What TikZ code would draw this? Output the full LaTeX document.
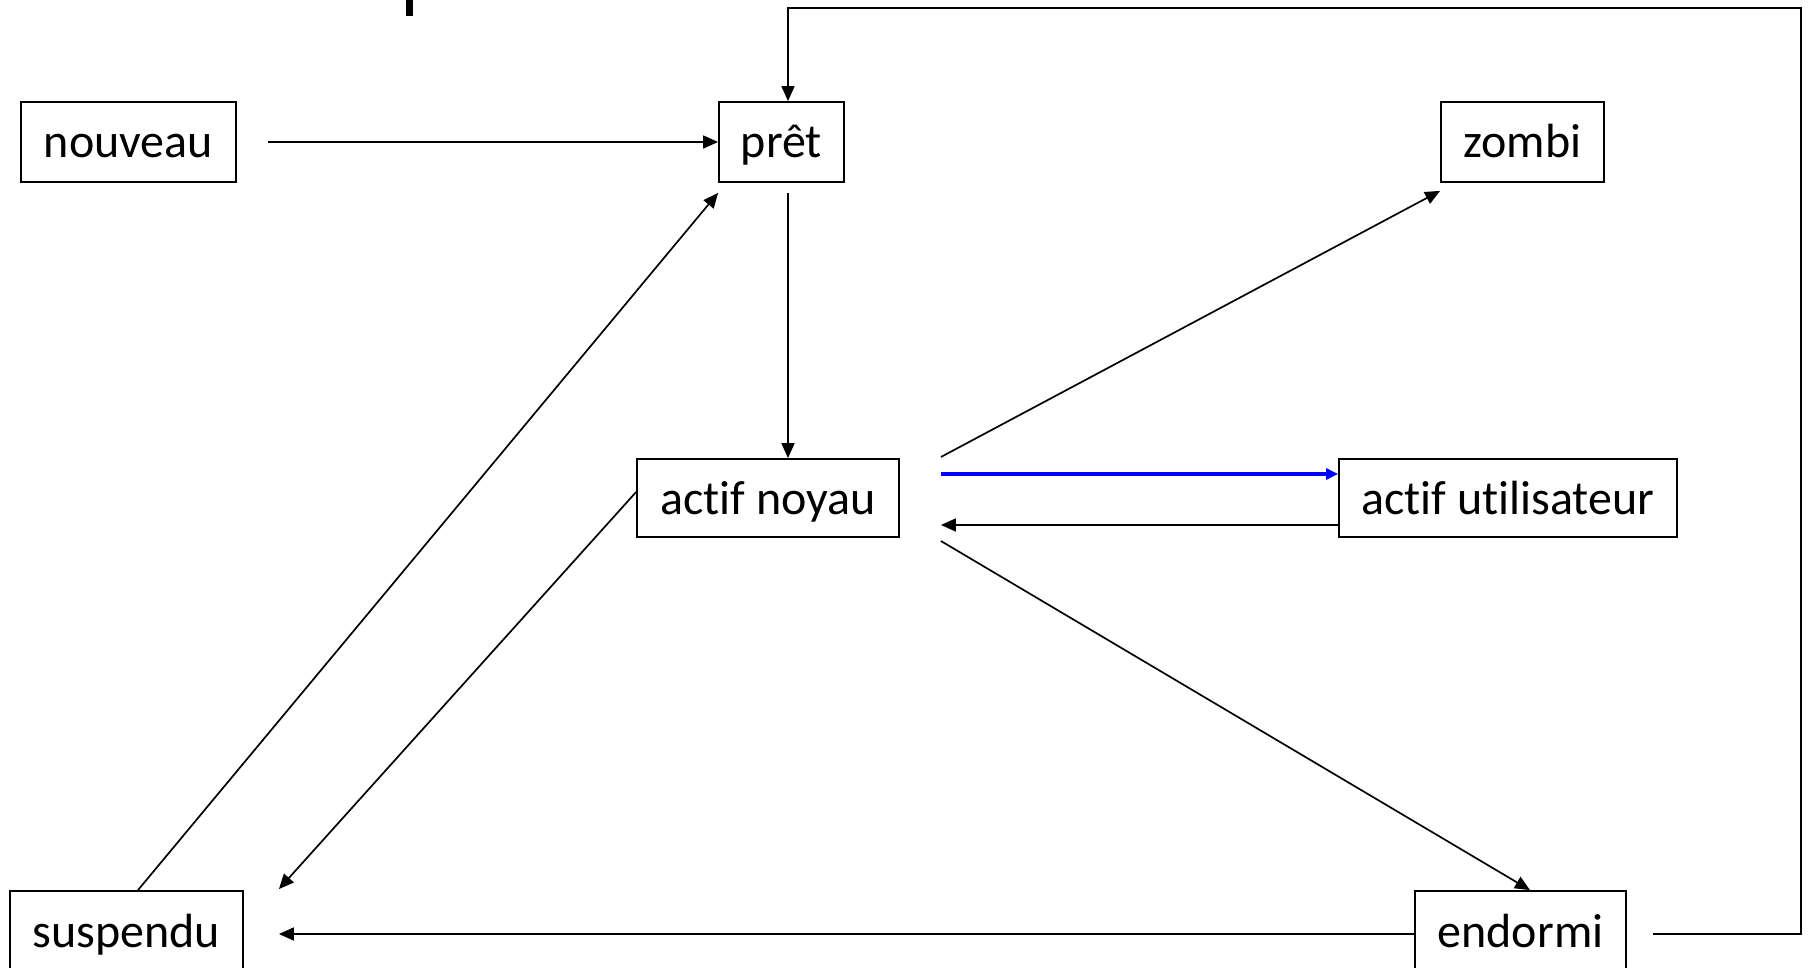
\documentclass[tikz,border=0pt]{standalone}
\usepackage{fontspec}
\setmainfont{Carlito}[Ligatures=NoCommon]
\usetikzlibrary{arrows.meta,calc}
\begin{document}
\begin{tikzpicture}[x=1pt,y=-1pt,
  statebox/.style={draw,line width=1.8pt,minimum height=80pt,inner sep=0pt,
    text height=36pt,text depth=4pt,
    font=\fontsize{48}{58}\selectfont},
  arr/.style={line width=1.7pt,-{Triangle[length=15pt,width=13pt]}},
  blue arr/.style={draw=blue,line width=4.5pt,
    -{Triangle[length=12pt,width=11pt]}}]
\useasboundingbox (0,0) rectangle (1816,968);

% stray descender of a cut-off heading
\fill (406,0) rectangle (413,16);

% states
\node[statebox,minimum width=215pt] (nouveau) at (128.5,142) {nouveau};
\node[statebox,minimum width=125pt] (pret) at (781.5,142) {prêt};
\node[statebox,minimum width=163pt] (zombi) at (1522.5,142) {zombi};
\node[statebox,minimum width=262pt,minimum height=78pt] (noyau) at (768,498) {actif noyau};
\node[statebox,minimum width=338pt,minimum height=78pt] (util) at (1508,498) {actif utilisateur};
\node[statebox,minimum width=233pt] (susp) at (126.5,931) {suspendu};
\node[statebox,minimum width=211pt] (endormi) at (1520.5,931) {endormi};

\coordinate (loopTop) at (1801,8);

% transitions
\draw[arr] ($(nouveau.east)+(31,0)$) -- (pret.west);
\draw[arr] ($(endormi.east)+(26,3)$) -| (loopTop) -| ([xshift=6.5pt]pret.north);
\draw[arr] ($(pret.south)+(6.5,10)$) -- ([xshift=20pt]noyau.north);
\draw[arr] ($(noyau.east)+(41,-41)$) -- ($(zombi.south west)+(0,8)$);
\draw[blue arr] ($(noyau.east)+(41,-24)$) -- ($(util.west)+(0,-24)$);
\draw[arr] ($(util.west)+(0,27)$) -- ($(noyau.east)+(41,27)$);
\draw[arr] ($(noyau.east)+(41,43)$) -- ($(endormi.north)+(9.5,0)$);
\draw[arr] ($(noyau.west)+(0,-6)$) -- ($(susp.north east)+(35,-1)$);
\draw[arr] ($(susp.north)+(11.5,0)$) -- ($(pret.south west)+(0,10)$);
\draw[arr] ($(endormi.west)+(0,3)$) -- ($(susp.east)+(35,3)$);
\end{tikzpicture}
\end{document}
